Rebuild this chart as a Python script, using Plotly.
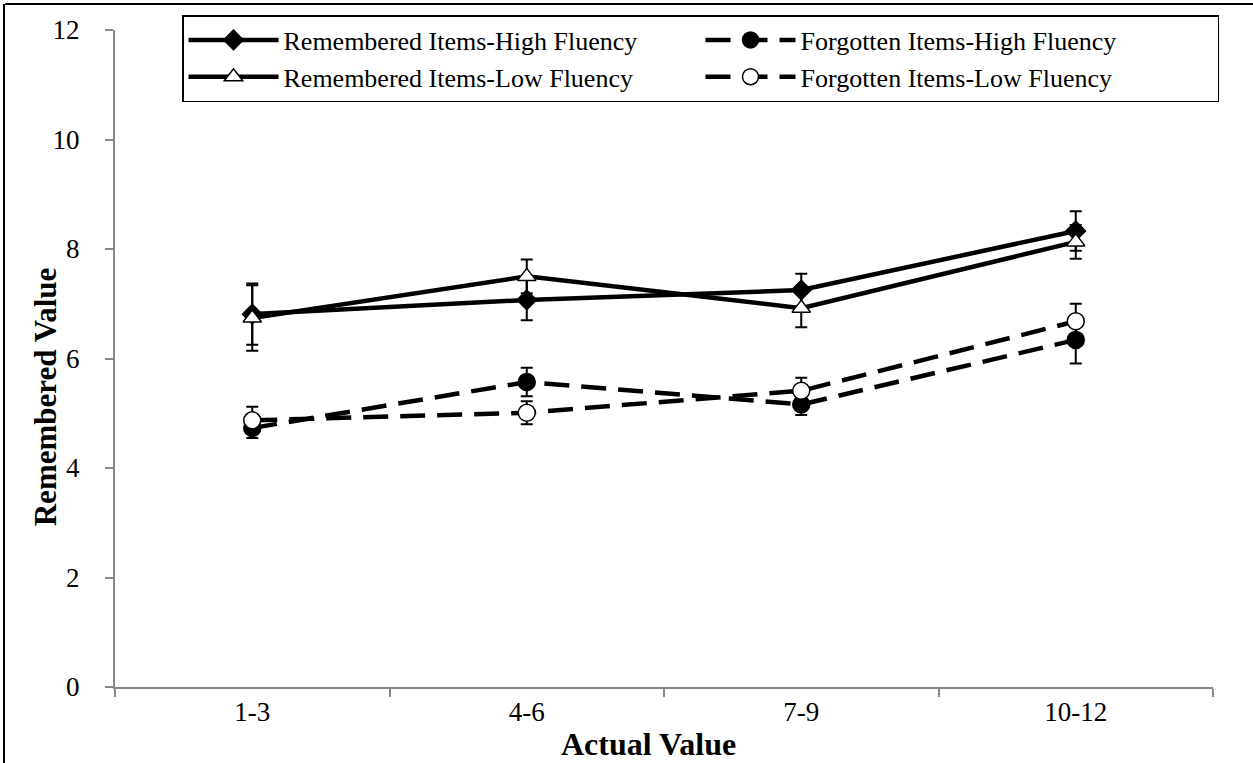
import plotly.graph_objects as go

categories = ["1-3", "4-6", "7-9", "10-12"]
rem_high = [6.81, 7.07, 7.25, 8.33]
rem_high_err = [0.56, 0.37, 0.30, 0.36]
forg_high = [4.73, 5.57, 5.16, 6.34]
forg_high_err = [0.18, 0.26, 0.19, 0.43]
rem_low = [6.74, 7.50, 6.92, 8.13]
rem_low_err = [0.60, 0.31, 0.35, 0.31]
forg_low = [4.87, 5.01, 5.41, 6.68]
forg_low_err = [0.25, 0.21, 0.24, 0.32]

FONT = "Liberation Serif, Times New Roman, serif"

def trace(name, y, err, dash, symbol, fill, size):
    return go.Scatter(
        x=categories, y=y, name=name, mode="lines+markers",
        line=dict(color="black", width=4.5, dash=dash),
        marker=dict(symbol=symbol, size=size,
                    color=fill, line=dict(color="black", width=1.5)),
        error_y=dict(type="data", array=err, visible=True, color="black",
                     thickness=2, width=6),
    )

DASH = "25px,12px"
fig = go.Figure()
fig.add_trace(trace("Remembered Items-High Fluency", rem_high, rem_high_err, "solid", "diamond", "black", 15))
fig.add_trace(trace("Forgotten Items-High Fluency", forg_high, forg_high_err, DASH, "circle", "black", 17))
fig.add_trace(trace("Remembered Items-Low Fluency", rem_low, rem_low_err, "solid", "triangle-up", "white", 16))
fig.add_trace(trace("Forgotten Items-Low Fluency", forg_low, forg_low_err, DASH, "circle", "white", 17))

fig.update_layout(
    width=1253, height=763,
    margin=dict(l=115, r=40, t=30, b=76, autoexpand=False),
    paper_bgcolor="white", plot_bgcolor="white",
    font=dict(family=FONT, size=26, color="black"),
    showlegend=True,
    legend=dict(
        orientation="h", xref="paper", yref="paper",
        x=(182 - 115) / 1098, y=(687 - 15) / 657, xanchor="left", yanchor="top",
        bordercolor="black", borderwidth=1.5, bgcolor="white",
        font=dict(family=FONT, size=26, color="black"),
        entrywidth=412, entrywidthmode="pixels",
        itemwidth=90, tracegroupgap=0,
    ),
    xaxis=dict(
        type="category", range=[-0.5, 3.5], tickson="boundaries",
        showline=True, linecolor="#888888", linewidth=2,
        ticks="outside", ticklen=8, tickcolor="#888888", tickwidth=2,
        showgrid=False, zeroline=False,
        tickfont=dict(family=FONT, size=27, color="black"),
    ),
    yaxis=dict(
        range=[0, 12], dtick=2, tick0=0,
        showline=True, linecolor="#888888", linewidth=2,
        ticks="outside", ticklen=8, tickcolor="#888888", tickwidth=2,
        showgrid=False, zeroline=False, ticklabelstandoff=20,
        tickfont=dict(family=FONT, size=27, color="black"),
    ),
    annotations=[
        dict(text="<b>Actual Value</b>", xref="paper", yref="paper",
             x=0.486, y=-0.087, xanchor="center", yanchor="middle",
             showarrow=False, font=dict(family=FONT, size=32)),
        dict(text="<b>Remembered Value</b>", xref="paper", yref="paper",
             x=(45 - 115) / 1098, y=0.441, xanchor="center", yanchor="middle", textangle=-90,
             showarrow=False, font=dict(family=FONT, size=31)),
    ],
    shapes=[
        dict(type="line", xref="paper", yref="paper", x0=-0.1, x1=1.05,
             y0=1.0396, y1=1.0396, line=dict(color="black", width=2)),
        dict(type="line", xref="paper", yref="paper", x0=-0.1011, x1=-0.1011,
             y0=-0.13, y1=1.0396, line=dict(color="black", width=2)),
    ],
)

fig.write_html("out.html", config={"displayModeBar": False},
               post_script="document.body.style.margin='0';document.body.style.overflow='hidden';")
